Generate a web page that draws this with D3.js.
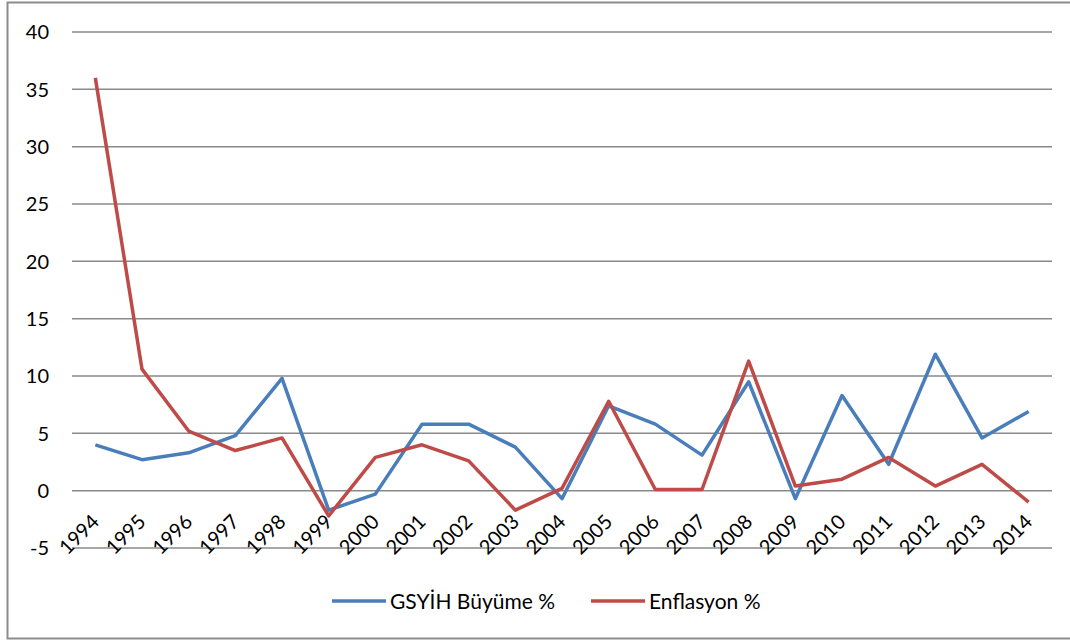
<!DOCTYPE html>
<html>
<head>
<meta charset="utf-8">
<script src="https://cdn.jsdelivr.net/npm/d3@7"></script>
<style>
  body { margin: 0; background: #fff; }
  svg text { font-family: Lato, "Open Sans", sans-serif; fill: #000; }
</style>
</head>
<body>
<div class="chart"></div>
<script>
// years on the x axis
const years = ["1994","1995","1996","1997","1998","1999","2000","2001","2002","2003","2004",
               "2005","2006","2007","2008","2009","2010","2011","2012","2013","2014"]
// GDP growth %
const gdpGrowth = [4.0, 2.7, 3.3, 4.8, 9.8, -1.7, -0.3, 5.8, 5.8, 3.8, -0.7,
                   7.4, 5.8, 3.1, 9.5, -0.7, 8.3, 2.3, 11.9, 4.6, 6.9]
// inflation %
const inflation = [36.0, 10.6, 5.2, 3.5, 4.6, -2.2, 2.9, 4.0, 2.6, -1.7, 0.2,
                   7.8, 0.1, 0.1, 11.3, 0.4, 1.0, 2.9, 0.4, 2.3, -1.0]
const yTicks = [-5, 0, 5, 10, 15, 20, 25, 30, 35, 40]
const seriesNames = ["GSYİH Büyüme %", "Enflasyon %"]
const seriesColors = ["#4a7ebb", "#be4b48"]

let width = 1070, height = 641

let svg = d3.select("div.chart").append("svg")
    .attr("width", width)
    .attr("height", height)

// outer frame (right side runs off the picture)
svg.append("rect")
    .attr("x", 7.5).attr("y", 2.5)
    .attr("width", 1080).attr("height", 636)
    .attr("fill", "none")
    .attr("stroke", "#8c8c8c")
    .attr("stroke-width", 2)

let x = d3.scaleBand().domain(years).range([72, 1052])
let y = d3.scaleLinear().domain([-5, 40]).range([548, 32])

// horizontal grid + y labels
let yAxis = svg.append("g")
yAxis.selectAll("line")
    .data(yTicks)
    .enter()
    .append("line")
    .attr("x1", 72).attr("x2", 1052)
    .attr("y1", d => y(d)).attr("y2", d => y(d))
    .attr("stroke", "#8a8a8a")
    .attr("stroke-width", 1.5)

yAxis.selectAll("text")
    .data(yTicks)
    .enter()
    .append("text")
    .attr("x", 49)
    .attr("y", d => y(d))
    .attr("dy", "0.36em")
    .attr("text-anchor", "end")
    .attr("font-size", 20)
    .text(d => d)

// rotated year labels
svg.append("g").selectAll("text")
    .data(years)
    .enter()
    .append("text")
    .attr("transform", d => `translate(${x(d) + x.bandwidth() / 2 + 5},${523}) rotate(-45)`)
    .attr("text-anchor", "end")
    .attr("font-size", 20)
    .text(d => d)

// the two lines
let line = d3.line()
    .x((d, i) => x(years[i]) + x.bandwidth() / 2)
    .y(d => y(d))

;[gdpGrowth, inflation].forEach((vals, k) => {
    svg.append("path")
        .attr("d", line(vals))
        .attr("fill", "none")
        .attr("stroke", seriesColors[k])
        .attr("stroke-width", 3.5)
        .attr("stroke-linejoin", "round")
})

// legend
let legendX = [332, 591]
seriesNames.forEach((name, k) => {
    let g = svg.append("g").attr("transform", `translate(${legendX[k]},601)`)
    g.append("line")
        .attr("x1", 0).attr("x2", 54)
        .attr("stroke", seriesColors[k])
        .attr("stroke-width", 3.5)
    g.append("text")
        .attr("x", 58)
        .attr("dy", "0.36em")
        .attr("font-size", 21)
        .text(name)
})
</script>
</body>
</html>
